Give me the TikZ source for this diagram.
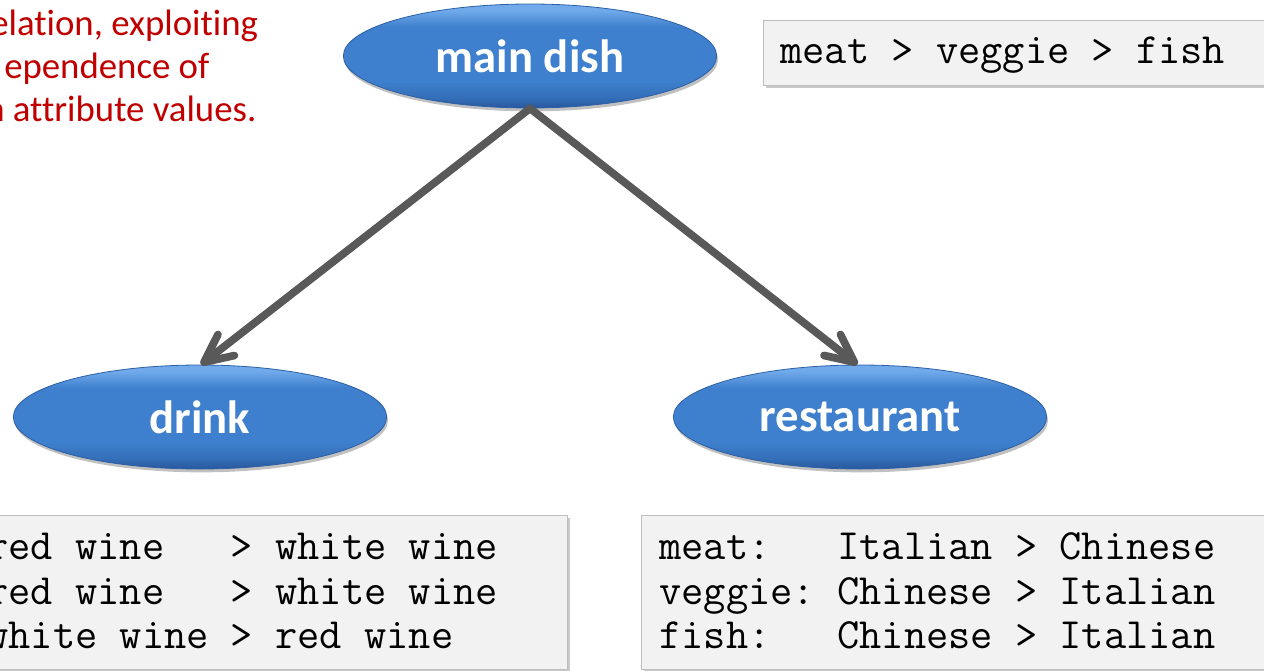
\documentclass[tikz,border=0pt]{standalone}
\usepackage{fontspec}
\newfontfamily\calib[Ligatures=NoCommon]{Carlito}
\usetikzlibrary{shapes.geometric,arrows.meta,shadows}
\definecolor{redtxt}{RGB}{192,0,0}
\definecolor{arrowgray}{RGB}{89,89,89}
\definecolor{boxfill}{RGB}{242,242,242}
\definecolor{boxline}{RGB}{190,190,190}
\definecolor{bluetop}{RGB}{112,170,235}
\definecolor{bluemid}{RGB}{62,128,205}
\definecolor{bluelow}{RGB}{52,110,185}
\definecolor{bluebot}{RGB}{40,88,155}
\definecolor{blueline}{RGB}{45,95,165}
\pgfdeclareverticalshading{blobshade}{100bp}{color(0bp)=(bluebot); color(25bp)=(bluebot); color(30bp)=(bluelow); color(38bp)=(bluemid); color(64bp)=(bluemid); color(72bp)=(bluetop); color(75bp)=(bluetop); color(100bp)=(bluetop)}
\tikzset{
  blob/.style={ellipse, minimum width=280pt, minimum height=78pt, inner sep=0pt,
    shading=blobshade, draw=blueline, line width=0.6pt,
    drop shadow={shadow xshift=1pt, shadow yshift=-2.5pt, opacity=0.35, fill=black!70},
    text=white, font=\calib\bfseries\fontsize{35}{42}\selectfont},
  codebox/.style={rectangle, anchor=north west, inner sep=0pt, fill=boxfill, draw=boxline, line width=0.8pt,
    drop shadow={shadow xshift=2pt, shadow yshift=-2pt, opacity=0.35, fill=black!60}},
  codeline/.style={anchor=base west, inner sep=0pt, font=\ttfamily\frenchspacing\fontsize{32.4}{38}\selectfont, text=black},
  note/.style={anchor=base west, inner sep=0pt, font=\calib\fontsize{27.6}{33}\selectfont, text=redtxt},
  link/.style={draw=arrowgray, line width=5.8pt, line cap=round,
    -{Straight Barb[length=21pt,width=20pt,line cap=round,line join=round]}}
}
\begin{document}
\begin{tikzpicture}[x=0.75pt,y=-0.75pt]
\useasboundingbox (0,0) rectangle (1264,671);
\clip (0,0) rectangle (1264,671);
\fill[white] (0,0) rectangle (1264,671);

% red note (cut at the left edge)
\node[note] (n1) at (-10,35) {elation, exploiting};
\node[note] (n2) at (4,78) {ependence of};
\node[note] (n3) at (-15,121) {n attribute values.};

% code boxes
\node[codebox, minimum width=390pt, minimum height=48.75pt] (topbox) at (763,20) {};
\node[codeline] (t1) at (780,63) {meat > veggie > fish};

\node[codebox, minimum width=440pt, minimum height=115.5pt] (drinkbox) at (-20,515) {};
\node[codeline] (d1) at (-14,559) {red wine\ \ \ > white wine};
\node[codeline] (d2) at (-14,604) {red wine\ \ \ > white wine};
\node[codeline] (d3) at (-14,648) {white wine > red wine};

\node[codebox, minimum width=480pt, minimum height=115.5pt] (restbox) at (641,515) {};
\node[codeline] (r1) at (659,559) {meat:\ \ \ Italian > Chinese};
\node[codeline] (r2) at (659,604) {veggie: Chinese > Italian};
\node[codeline] (r3) at (659,648) {fish:\ \ \ Chinese > Italian};

% ellipses
\node[blob] (main) at (530,56) {main dish};
\node[blob] (drink) at (200,417) {drink};
\node[blob] (rest) at (860,417) {restaurant};

% arrows
\draw[link] (main.south) -- ([xshift=0.75pt]drink.north);
\draw[link] (main.south) -- ([xshift=-2pt]rest.north);
\end{tikzpicture}
\end{document}
